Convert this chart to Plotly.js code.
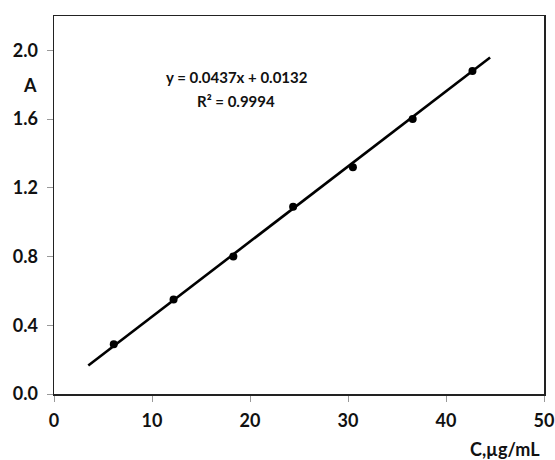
<!DOCTYPE html>
<html>
<head>
<meta charset="utf-8">
<script src="https://cdn.plot.ly/plotly-3.0.1.min.js"></script>
<style>html,body{margin:0;padding:0;background:#fff;}#chart{width:555px;height:460px;}</style>
</head>
<body>
<div id="chart"></div>
<script>
// Data
const concentration = [6.1, 12.2, 18.3, 24.4, 30.5, 36.6, 42.7];
const absorbance = [0.29, 0.55, 0.80, 1.09, 1.32, 1.60, 1.88];
// Trendline end points as seen in the picture
const trendX = [3.5, 44.5];
const trendY = [0.166, 1.958];
const xTicks = [0, 10, 20, 30, 40, 50];
const yTicks = [0.0, 0.4, 0.8, 1.2, 1.6, 2.0];
const equationText = "y = 0.0437x + 0.0132";
const r2Text = "R² = 0.9994";
const yLabel = "A";
const xLabel = "C,µg/mL";

const font = "Lato, sans-serif";

const traces = [
  {x: trendX, y: trendY, mode: 'lines', line: {color: '#000', width: 2.6}, hoverinfo: 'skip', showlegend: false},
  {x: concentration, y: absorbance, mode: 'markers', marker: {color: '#000', size: 8}, showlegend: false}
];

const layout = {
  width: 555, height: 460,
  margin: {l: 54, r: 11, t: 16, b: 66},
  paper_bgcolor: '#fff', plot_bgcolor: '#fff',
  font: {family: font, color: '#111', size: 18},
  xaxis: {
    range: [0, 50], tickvals: xTicks, ticktext: xTicks.map(String),
    showgrid: false, zeroline: false, showline: true, mirror: true,
    linecolor: '#222', linewidth: 1.5, ticks: 'outside', ticklen: 6, tickcolor: '#999', tickwidth: 1,
    ticklabelstandoff: 4,
    tickfont: {family: font, size: 18, color: '#111', weight: 'bold'}
  },
  yaxis: {
    range: [0, 2.2], tickvals: yTicks, ticktext: yTicks.map(v => v.toFixed(1)),
    showgrid: false, zeroline: false, showline: true, mirror: true,
    linecolor: '#222', linewidth: 1.5, ticks: 'outside', ticklen: 6, tickcolor: '#999', tickwidth: 1,
    ticklabelstandoff: 5,
    tickfont: {family: font, size: 18, color: '#111', weight: 'bold'}
  },
  annotations: [
    {xref: 'paper', yref: 'paper', x: 0.373, y: 0.839, text: equationText, showarrow: false,
     font: {family: font, size: 15, color: '#111', weight: 'bold'}, xanchor: 'center', yanchor: 'middle'},
    {xref: 'paper', yref: 'paper', x: 0.371, y: 0.775, text: r2Text, showarrow: false,
     font: {family: font, size: 15, color: '#111', weight: 'bold'}, xanchor: 'center', yanchor: 'middle'},
    {xref: 'paper', yref: 'paper', x: -0.049, y: 0.817, text: yLabel, showarrow: false,
     font: {family: font, size: 18, color: '#111', weight: 'bold'}, xanchor: 'center', yanchor: 'middle'},
    {xref: 'paper', yref: 'paper', x: 0.92, y: -0.146, text: xLabel, showarrow: false,
     font: {family: font, size: 18, color: '#111', weight: 'bold'}, xanchor: 'center', yanchor: 'middle'}
  ]
};

Plotly.newPlot('chart', traces, layout, {displayModeBar: false, staticPlot: true});
</script>
</body>
</html>
